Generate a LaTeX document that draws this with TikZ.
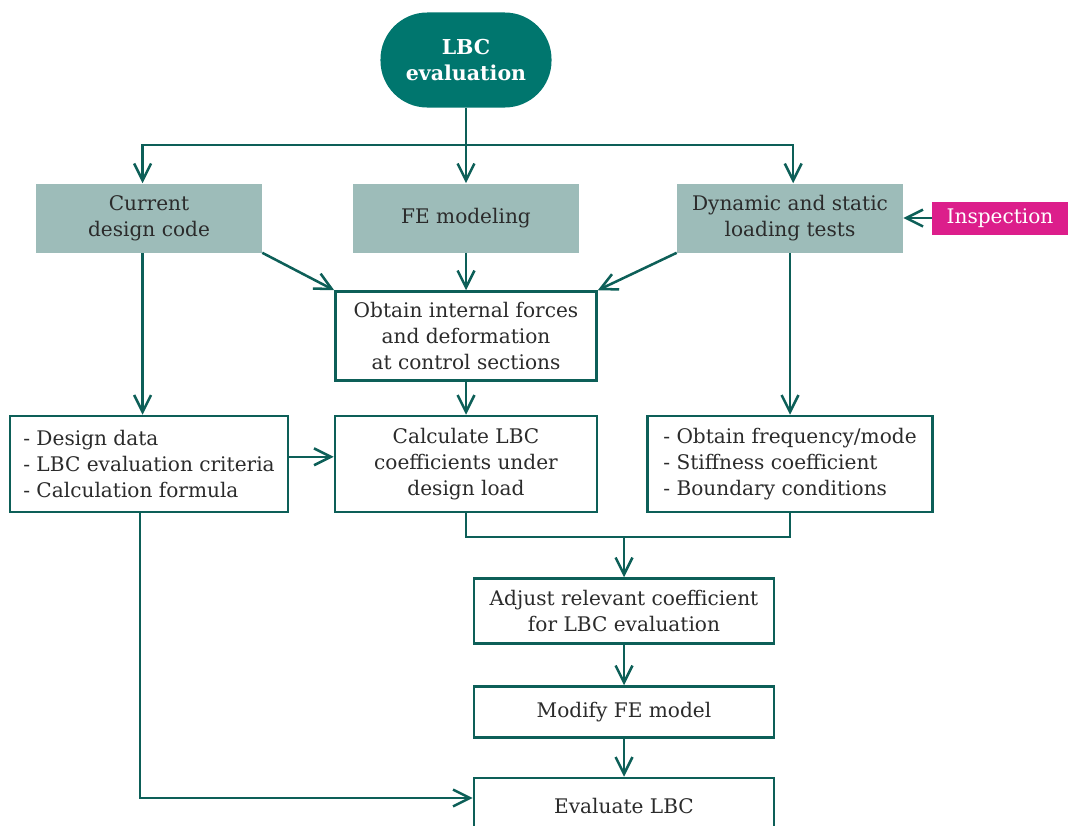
\documentclass[tikz,border=0pt]{standalone}
\usepackage{fontspec}
\setmainfont{DejaVu Serif}
\usepackage{tikz}
\usetikzlibrary{arrows.meta}

\definecolor{lbcteal}{HTML}{00766E}
\definecolor{lbcline}{HTML}{0D5F58}
\definecolor{lbcgray}{HTML}{9DBCB9}
\definecolor{lbcpink}{HTML}{DC1E8B}
\definecolor{lbctext}{HTML}{2B2B2B}

\tikzset{
    box/.style={draw=lbcline, line width=1.8pt, fill=white, text=lbctext, align=center, inner sep=2pt,
        font=\fontsize{14.3}{18.2}\selectfont},
    graybox/.style={fill=lbcgray, text=lbctext, align=center, inner sep=2pt,
        font=\fontsize{14.3}{18.2}\selectfont, minimum width=5.65cm, minimum height=1.725cm},
    arr/.style={draw=lbcline, line width=1.8pt, -{Straight Barb[length=12pt,width=12pt]}},
    plain/.style={draw=lbcline, line width=1.8pt},
}

\begin{document}
\begin{tikzpicture}[x=0.025cm, y=-0.025cm]
    \useasboundingbox (0,0) rectangle (1069,825);

    %%%%%%%%%%%%%%%%%%%%%%%%%%%%%%%%%%%%
    % start and input boxes
    %%%%%%%%%%%%%%%%%%%%%%%%%%%%%%%%%%%%
    \node (top) at (466,60) [fill=lbcteal, rounded corners=1.17cm, minimum width=4.275cm, minimum height=2.375cm,
        text=white, align=center, font=\fontsize{14.6}{19}\selectfont\bfseries] {LBC\\evaluation};

    \node[graybox] (cur) at (149,218) {Current\\design code};
    \node[graybox] (fem) at (466,218) {FE modeling};
    \node[graybox] (dyn) at (790,218) {Dynamic and static\\loading tests};
    \node (ins) at (1000,218) [fill=lbcpink, text=white, minimum width=3.375cm, minimum height=0.825cm,
        inner sep=0pt, font=\fontsize{14.3}{18.2}\selectfont] {Inspection};

    %%%%%%%%%%%%%%%%%%%%%%%%%%%%%%%%%%%%
    % analysis boxes
    %%%%%%%%%%%%%%%%%%%%%%%%%%%%%%%%%%%%
    \node[box, minimum width=6.525cm, minimum height=2.225cm] (obt) at (466,336)
        {Obtain internal forces\\and deformation\\at control sections};
    \node[box, align=left, minimum width=6.95cm, minimum height=2.4cm] (dat) at (149,464)
        {- Design data\\- LBC evaluation criteria\\- Calculation formula};
    \node[box, minimum width=6.55cm, minimum height=2.4cm] (calc) at (466,464)
        {Calculate LBC\\coefficients under\\design load};
    \node[box, align=left, minimum width=7.125cm, minimum height=2.4cm] (frq) at (790,464)
        {- Obtain frequency/mode\\- Stiffness coefficient\\- Boundary conditions};
    \node[box, minimum width=7.5cm, minimum height=1.625cm] (adj) at (624,611)
        {Adjust relevant coefficient\\for LBC evaluation};
    \node[box, minimum width=7.5cm, minimum height=1.275cm] (mod) at (624,712) {Modify FE model};
    \node[box, minimum width=7.5cm, minimum height=1.4cm] (eva) at (624,806) {Evaluate LBC};

    %%%%%%%%%%%%%%%%%%%%%%%%%%%%%%%%%%%%
    % connectors
    %%%%%%%%%%%%%%%%%%%%%%%%%%%%%%%%%%%%
    \coordinate (bar) at (466,145);
    \coordinate (join) at (624,537);

    \draw[plain] (top.south) -- (bar);
    \draw[arr] (bar) -| ([xshift=-0.16cm]cur.north);
    \draw[arr] (bar) -- (fem.north);
    \draw[arr] (bar) -| ([xshift=0.08cm]dyn.north);

    \draw[arr] (cur.south east) -- (obt.north west);
    \draw[arr] (fem.south) -- (obt.north);
    \draw[arr] (dyn.south west) -- (obt.north east);
    \draw[arr] (ins.west) -- (dyn.east);

    \draw[arr] ([xshift=-0.16cm]cur.south) -- ([xshift=-0.16cm]cur.south |- dat.north);
    \draw[arr] (dyn.south) -- (dyn.south |- frq.north);
    \draw[arr] (obt.south) -- (calc.north);
    \draw[arr] ([yshift=0.18cm]dat.east) -- ([yshift=0.18cm]calc.west);

    \draw[plain] (calc.south) |- (join) -| (frq.south);
    \draw[arr] (join) -- (adj.north);
    \draw[arr] (adj.south) -- (mod.north);
    \draw[arr] (mod.south) -- (eva.north);
    \draw[arr] ([xshift=-0.22cm]dat.south) |- ([yshift=0.2cm]eva.west);

\end{tikzpicture}
\end{document}
